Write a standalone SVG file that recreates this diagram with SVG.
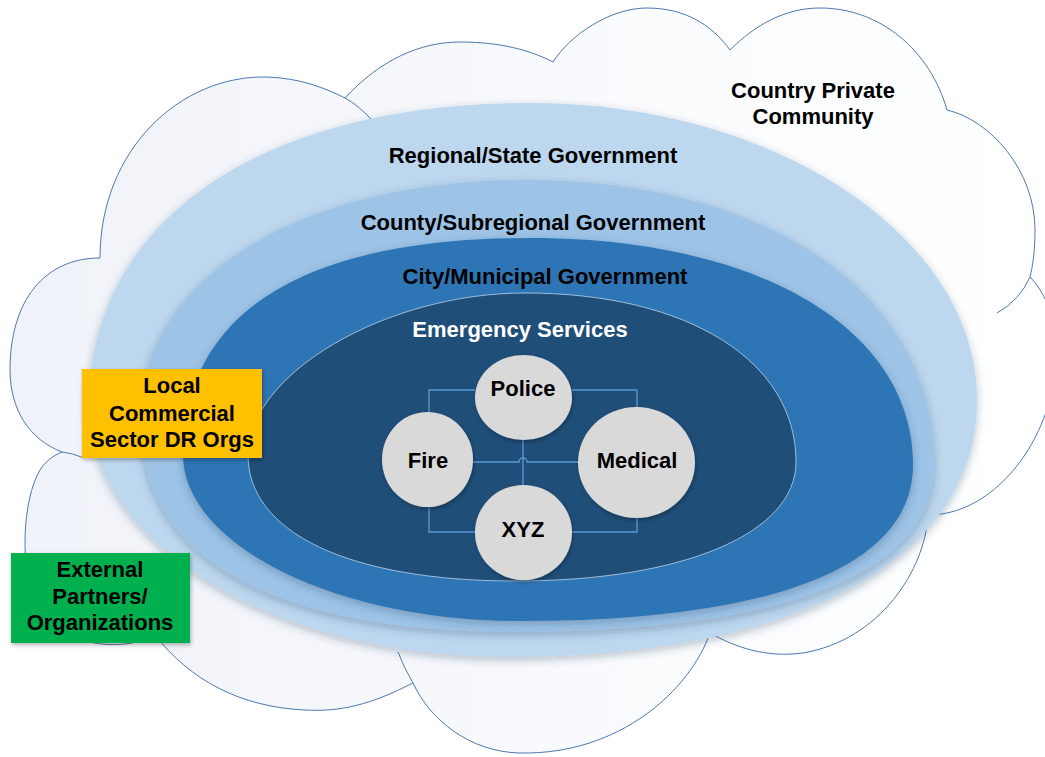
<svg xmlns="http://www.w3.org/2000/svg" width="1045" height="757" viewBox="0 0 1045 757">
  <defs>
    <style>
      .lbl{font-family:"Liberation Sans",Arial,sans-serif;font-weight:bold;font-size:22px;text-anchor:middle;fill:#000}
      .wht{fill:#fff}
      .cloud{fill:url(#cloudFill);stroke:#4f78b0;stroke-width:1}
      .tail{fill:none;stroke:#4f78b0;stroke-width:1}
      .node{fill:#d9d9d9;filter:url(#soft)}
      .conn{fill:none;stroke:#5b9bd5;stroke-width:1.3}
    </style>
    <linearGradient id="cloudFill" x1="0" y1="0" x2="1" y2="0">
      <stop offset="0" stop-color="#eff2f8"/>
      <stop offset="0.6" stop-color="#f9fbfd"/>
      <stop offset="1" stop-color="#ffffff"/>
    </linearGradient>
    <filter id="shadow" x="-10%" y="-10%" width="120%" height="125%">
      <feDropShadow dx="0" dy="3" stdDeviation="4" flood-color="#1f3a5a" flood-opacity="0.3"/>
    </filter>
    <filter id="soft" x="-20%" y="-20%" width="140%" height="140%">
      <feDropShadow dx="1" dy="2" stdDeviation="2" flood-color="#000" flood-opacity="0.3"/>
    </filter>
  </defs>

  <rect width="1045" height="757" fill="#ffffff"/>

  <g id="cloud">
    <path class="cloud" d="M100,258 C100,150 180,75 267,77 C300,78 325,88 345,98 C380,60 420,42 460,42 C500,42 530,50 553,62 C570,35 610,8 647,8 C685,8 712,25 730,50 C755,25 785,8 820,8 C880,8 930,50 947,110 C990,120 1035,170 1035,230 C1035,250 1033,265 1030,277 C1058,305 1068,370 1045,415 C1025,470 980,515 928,515 C925,570 880,640 803,653 C765,658 735,647 710,633 C690,690 620,755 520,753 C470,752 430,720 413,683 C370,705 340,712 305,710 C240,707 190,680 155,635 C125,652 60,650 35,600 C20,570 22,500 40,470 C45,462 52,456 62,452 C30,440 10,410 10,370 C10,300 45,258 100,258 Z"/>
    <path class="tail" d="M345,98 Q358,105 372,120"/>
    <path class="tail" d="M1030,277 Q1020,300 997,313"/>
    <path class="tail" d="M928,515 L929,500"/>
    <path class="tail" d="M413,683 Q404,668 398,652"/>
    <path class="tail" d="M62,452 Q72,453 84,458"/>
    <text class="lbl" x="813" y="98">Country Private</text>
    <text class="lbl" x="813" y="124">Community</text>
  </g>

  <g id="regional-state">
    <path fill="#bdd7ee" filter="url(#shadow)" d="M89,405 C89,224 256,103 530,103 C776,103 977,237 977,400 C977,559 798,657 505,657 C275,657 89,544 89,405 Z"/>
    <text class="lbl" x="533" y="163">Regional/State Government</text>
  </g>

  <g id="county-subregional">
    <path fill="#9dc3e6" filter="url(#shadow)" d="M140,420 C140,277 302,180 525,180 C770,180 934,294 934,465 C934,573 787,632 515,632 C271,632 140,558 140,420 Z"/>
    <text class="lbl" x="533" y="230">County/Subregional Government</text>
  </g>

  <g id="city-municipal">
    <path fill="#2e75b6" filter="url(#shadow)" d="M183,455 C183,312 304,238 530,238 C760,238 913,329 913,465 C913,566 775,621 520,621 C334,621 183,544 183,455 Z"/>
    <text class="lbl" x="545" y="284">City/Municipal Government</text>
  </g>

  <g id="emergency-services">
    <path fill="#1f4e79" stroke="#bcd3ea" stroke-width="1" stroke-opacity="0.8" d="M248,455 C248,374 386,293 525,293 C688,293 796,361 796,462 C796,533 684,581 515,581 C350,581 248,533 248,455 Z"/>
    <text class="lbl wht" x="520" y="337">Emergency Services</text>
  </g>

  <g id="connectors">
    <path class="conn" d="M475,390 H429 V412"/>
    <path class="conn" d="M572,390 H637 V407"/>
    <path class="conn" d="M429,507 V532 H475"/>
    <path class="conn" d="M572,532 H637 V518"/>
    <path class="conn" d="M523,440 V485"/>
    <path class="conn" d="M473,462 H519 A4,4 0 0 1 527,462 H578"/>
  </g>

  <g id="police">
    <ellipse class="node" cx="523.5" cy="397.5" rx="48.5" ry="42.5"/>
    <text class="lbl" x="523" y="396">Police</text>
  </g>
  <g id="fire">
    <ellipse class="node" cx="427.5" cy="459.5" rx="45.5" ry="47.5"/>
    <text class="lbl" x="428" y="468">Fire</text>
  </g>
  <g id="medical">
    <ellipse class="node" cx="636.5" cy="462.5" rx="58.5" ry="55.5"/>
    <text class="lbl" x="637" y="468">Medical</text>
  </g>
  <g id="xyz">
    <ellipse class="node" cx="523.5" cy="532.5" rx="48.5" ry="47.5"/>
    <text class="lbl" x="523" y="537">XYZ</text>
  </g>

  <g id="local-commercial">
    <rect x="82" y="369" width="180" height="89" fill="#ffc000" filter="url(#soft)"/>
    <text class="lbl" x="172" y="393">Local</text>
    <text class="lbl" x="172" y="421">Commercial</text>
    <text class="lbl" x="172" y="447">Sector DR Orgs</text>
  </g>

  <g id="external-partners">
    <rect x="11" y="553" width="179" height="90" fill="#00b050" filter="url(#soft)"/>
    <text class="lbl" x="100" y="577">External</text>
    <text class="lbl" x="100" y="604">Partners/</text>
    <text class="lbl" x="100" y="630">Organizations</text>
  </g>
</svg>
